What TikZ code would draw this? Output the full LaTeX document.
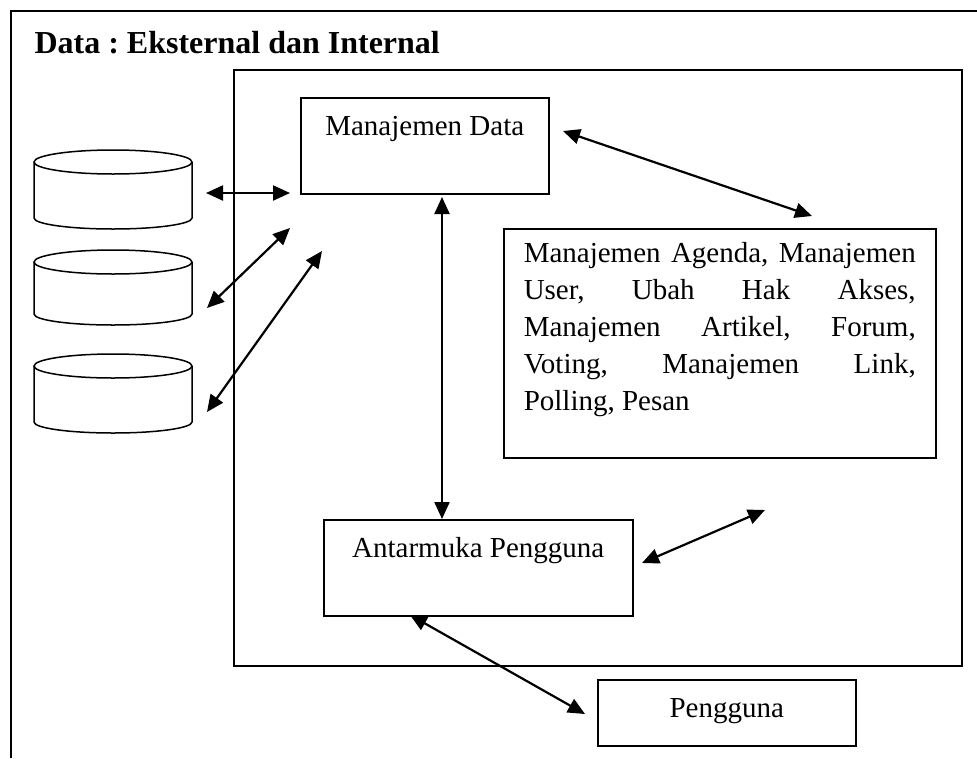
\documentclass[tikz,border=0pt]{standalone}
\usepackage{fontspec}
\setmainfont{Liberation Serif}
\usetikzlibrary{arrows.meta}

\tikzset{
  kotak/.style={draw, line width=1.5pt, inner sep=0pt, font=\fontsize{29}{37}\selectfont},
  panah/.style={{Triangle[length=17pt,width=15pt]}-{Triangle[length=17pt,width=15pt]}, line width=2.2pt},
  tabung/.style={line width=1.5pt}
}

\begin{document}
\frenchspacing
\begin{tikzpicture}[x=1pt,y=-1pt]
	\useasboundingbox (0,0) rectangle (977,758);
	% bingkai luar
	\draw[line width=1.8pt] (11,758) -- (11,11) -- (977,11);
	\node[anchor=base west, font=\bfseries\fontsize{32}{38}\selectfont] (judul) at (31,53) {Data : Eksternal dan Internal};
	
	% sistem
	\node[kotak, anchor=north west, minimum width=728pt, minimum height=596pt] (sistem) at (233,69) {};
	\node[kotak, anchor=north west, minimum width=248pt, text height=38pt, text depth=58pt] (mdata) at (300,97) {Manajemen Data};
	\node[kotak, anchor=north west, inner xsep=20pt, inner ysep=14pt] (modul) at (503,228)
		{\parbox[c][201pt][t]{392pt}{\hyphenpenalty=10000\tolerance=10000
			Manajemen Agenda, Manajemen\linebreak
			User, Ubah Hak Akses,\linebreak
			Manajemen Artikel, Forum,\linebreak
			Voting, Manajemen Link,\linebreak
			Polling, Pesan}};
	\node[kotak, anchor=north west, minimum width=309pt, text height=38pt, text depth=58pt] (antarmuka) at (323,519) {Antarmuka Pengguna};
	\node[kotak, anchor=north west, minimum width=258pt, text height=38pt, text depth=28pt] (pengguna) at (597,679) {Pengguna};
	
	% basis data
	\foreach \atas/\bawah [count=\i] in {162/218, 262/314, 366/422}{
		\draw[tabung] (34,\atas) -- (34,\bawah) arc[start angle=180, end angle=0, x radius=79, y radius=11] -- (192,\atas);
		\draw[tabung] (113,\atas) ellipse [x radius=79, y radius=12];
	}
	
	% ujung panah
	\coordinate (d1) at (206,193);
	\coordinate (m1) at (290,193);
	\coordinate (d2) at (207,308);
	\coordinate (m2) at (290,228);
	\coordinate (d3) at (207,412);
	\coordinate (m3) at (322,251);
	\coordinate (mbawah) at (442,197);
	\coordinate (mkanan) at (563,131);
	\coordinate (matas) at (812,216);
	\coordinate (akanan) at (642,563);
	\coordinate (mkiri) at (765,510);
	\coordinate (abawah) at (410,615);
	\coordinate (pkiri) at (585,714);
	
	\draw[panah] (d1) -- (m1);
	\draw[panah] (d2) -- (m2);
	\draw[panah] (d3) -- (m3);
	\draw[panah] (mbawah) -- (mbawah |- antarmuka.north);
	\draw[panah] (mkanan) -- (matas);
	\draw[panah] (akanan) -- (mkiri);
	\draw[panah] (abawah) -- (pkiri);
\end{tikzpicture}
\end{document}
